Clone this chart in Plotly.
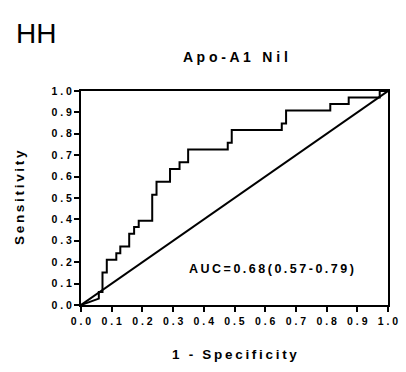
import plotly.graph_objects as go

# ROC curve vertices (1 - specificity, sensitivity)
fpr = [0.000, 0.058, 0.058, 0.070, 0.070, 0.084, 0.084, 0.115, 0.115, 0.128, 0.128,
       0.157, 0.157, 0.173, 0.173, 0.188, 0.188, 0.232, 0.232, 0.246, 0.246, 0.290,
       0.290, 0.321, 0.321, 0.349, 0.349, 0.478, 0.478, 0.491, 0.491, 0.654, 0.654,
       0.668, 0.668, 0.812, 0.812, 0.872, 0.872, 0.973, 0.973, 1.000]
tpr = [0.000, 0.030, 0.061, 0.061, 0.152, 0.152, 0.212, 0.212, 0.242, 0.242, 0.273,
       0.273, 0.333, 0.333, 0.364, 0.364, 0.394, 0.394, 0.515, 0.515, 0.576, 0.576,
       0.636, 0.636, 0.667, 0.667, 0.727, 0.727, 0.758, 0.758, 0.818, 0.818, 0.848,
       0.848, 0.909, 0.909, 0.939, 0.939, 0.970, 0.970, 1.000, 1.000]
ref_x = [0.0, 1.0]
ref_y = [0.0, 1.0]

tick_vals = [0.0, 0.1, 0.2, 0.3, 0.4, 0.5, 0.6, 0.7, 0.8, 0.9, 1.0]
tick_labels = ["0.0", "0.1", "0.2", "0.3", "0.4", "0.5", "0.6", "0.7", "0.8", "0.9", "1.0"]

panel_label = "HH"
chart_title = "Apo-A1 Nil"
x_title = "1 - Specificity"
y_title = "Sensitivity"
auc_text = "AUC=0.68(0.57-0.79)"

FONT = "Arial, Liberation Sans, Helvetica, sans-serif"
TS = "\u2009"  # thin space for letter spacing


def spaced(s, sep=TS, word_sep="\u00a0"):
    out = []
    n = len(s)
    for i, ch in enumerate(s):
        if ch == " ":
            out.append(word_sep)
        else:
            out.append(ch)
        if i < n - 1:
            out.append(sep)
    return "".join(out)


fig = go.Figure()
fig.add_trace(go.Scatter(x=ref_x, y=ref_y, mode="lines",
                         line=dict(color="black", width=2), showlegend=False))
fig.add_trace(go.Scatter(x=fpr, y=tpr, mode="lines",
                         line=dict(color="black", width=2), showlegend=False))

W, H = 406, 372
L, R, T, B = 81, 8, 91, 67
pw, ph = W - L - R, H - T - B


def px(xp):
    return (xp - L) / pw


def py(yp):
    return (H - B - yp) / ph


axis_common = dict(
    range=[0, 1], tickvals=tick_vals, ticktext=[spaced(t, sep=" ") for t in tick_labels],
    showgrid=False, zeroline=False, showline=True, linecolor="black", linewidth=2,
    mirror=True, ticks="outside", ticklen=5, tickwidth=2, tickcolor="black",
    tickfont=dict(family=FONT, size=10.5, color="black", weight="bold"),
    ticklabeloverflow="allow", fixedrange=True,
)
fig.update_xaxes(**axis_common)
fig.update_yaxes(**axis_common)

ann = []
ann.append(dict(text=panel_label, xref="paper", yref="paper", x=px(12), y=py(33),
                xanchor="left", yanchor="middle", showarrow=False,
                font=dict(family=FONT, size=28, color="black")))
ann.append(dict(text=spaced(chart_title, sep=" ", word_sep="\u00a0"), xref="paper", yref="paper",
                x=px(241), y=py(57), xanchor="center", yanchor="middle", showarrow=False,
                font=dict(family=FONT, size=14, color="black", weight="bold")))
ann.append(dict(text=spaced(x_title), xref="paper", yref="paper", x=0.5, y=py(354),
                xanchor="center", yanchor="middle", showarrow=False,
                font=dict(family=FONT, size=13.5, color="black", weight="bold")))
ann.append(dict(text=spaced(y_title), xref="paper", yref="paper", x=px(17), y=0.5,
                xanchor="center", yanchor="middle", showarrow=False, textangle=-90,
                font=dict(family=FONT, size=13.5, color="black", weight="bold")))
ann.append(dict(text=spaced(auc_text), xref="x", yref="y", x=0.622, y=0.167,
                xanchor="center", yanchor="middle", showarrow=False,
                font=dict(family=FONT, size=12.5, color="black", weight="bold")))

fig.update_layout(
    width=W, height=H, margin=dict(l=L, r=R, t=T, b=B),
    paper_bgcolor="white", plot_bgcolor="white",
    annotations=ann, showlegend=False,
)

fig.write_html("out.html")
